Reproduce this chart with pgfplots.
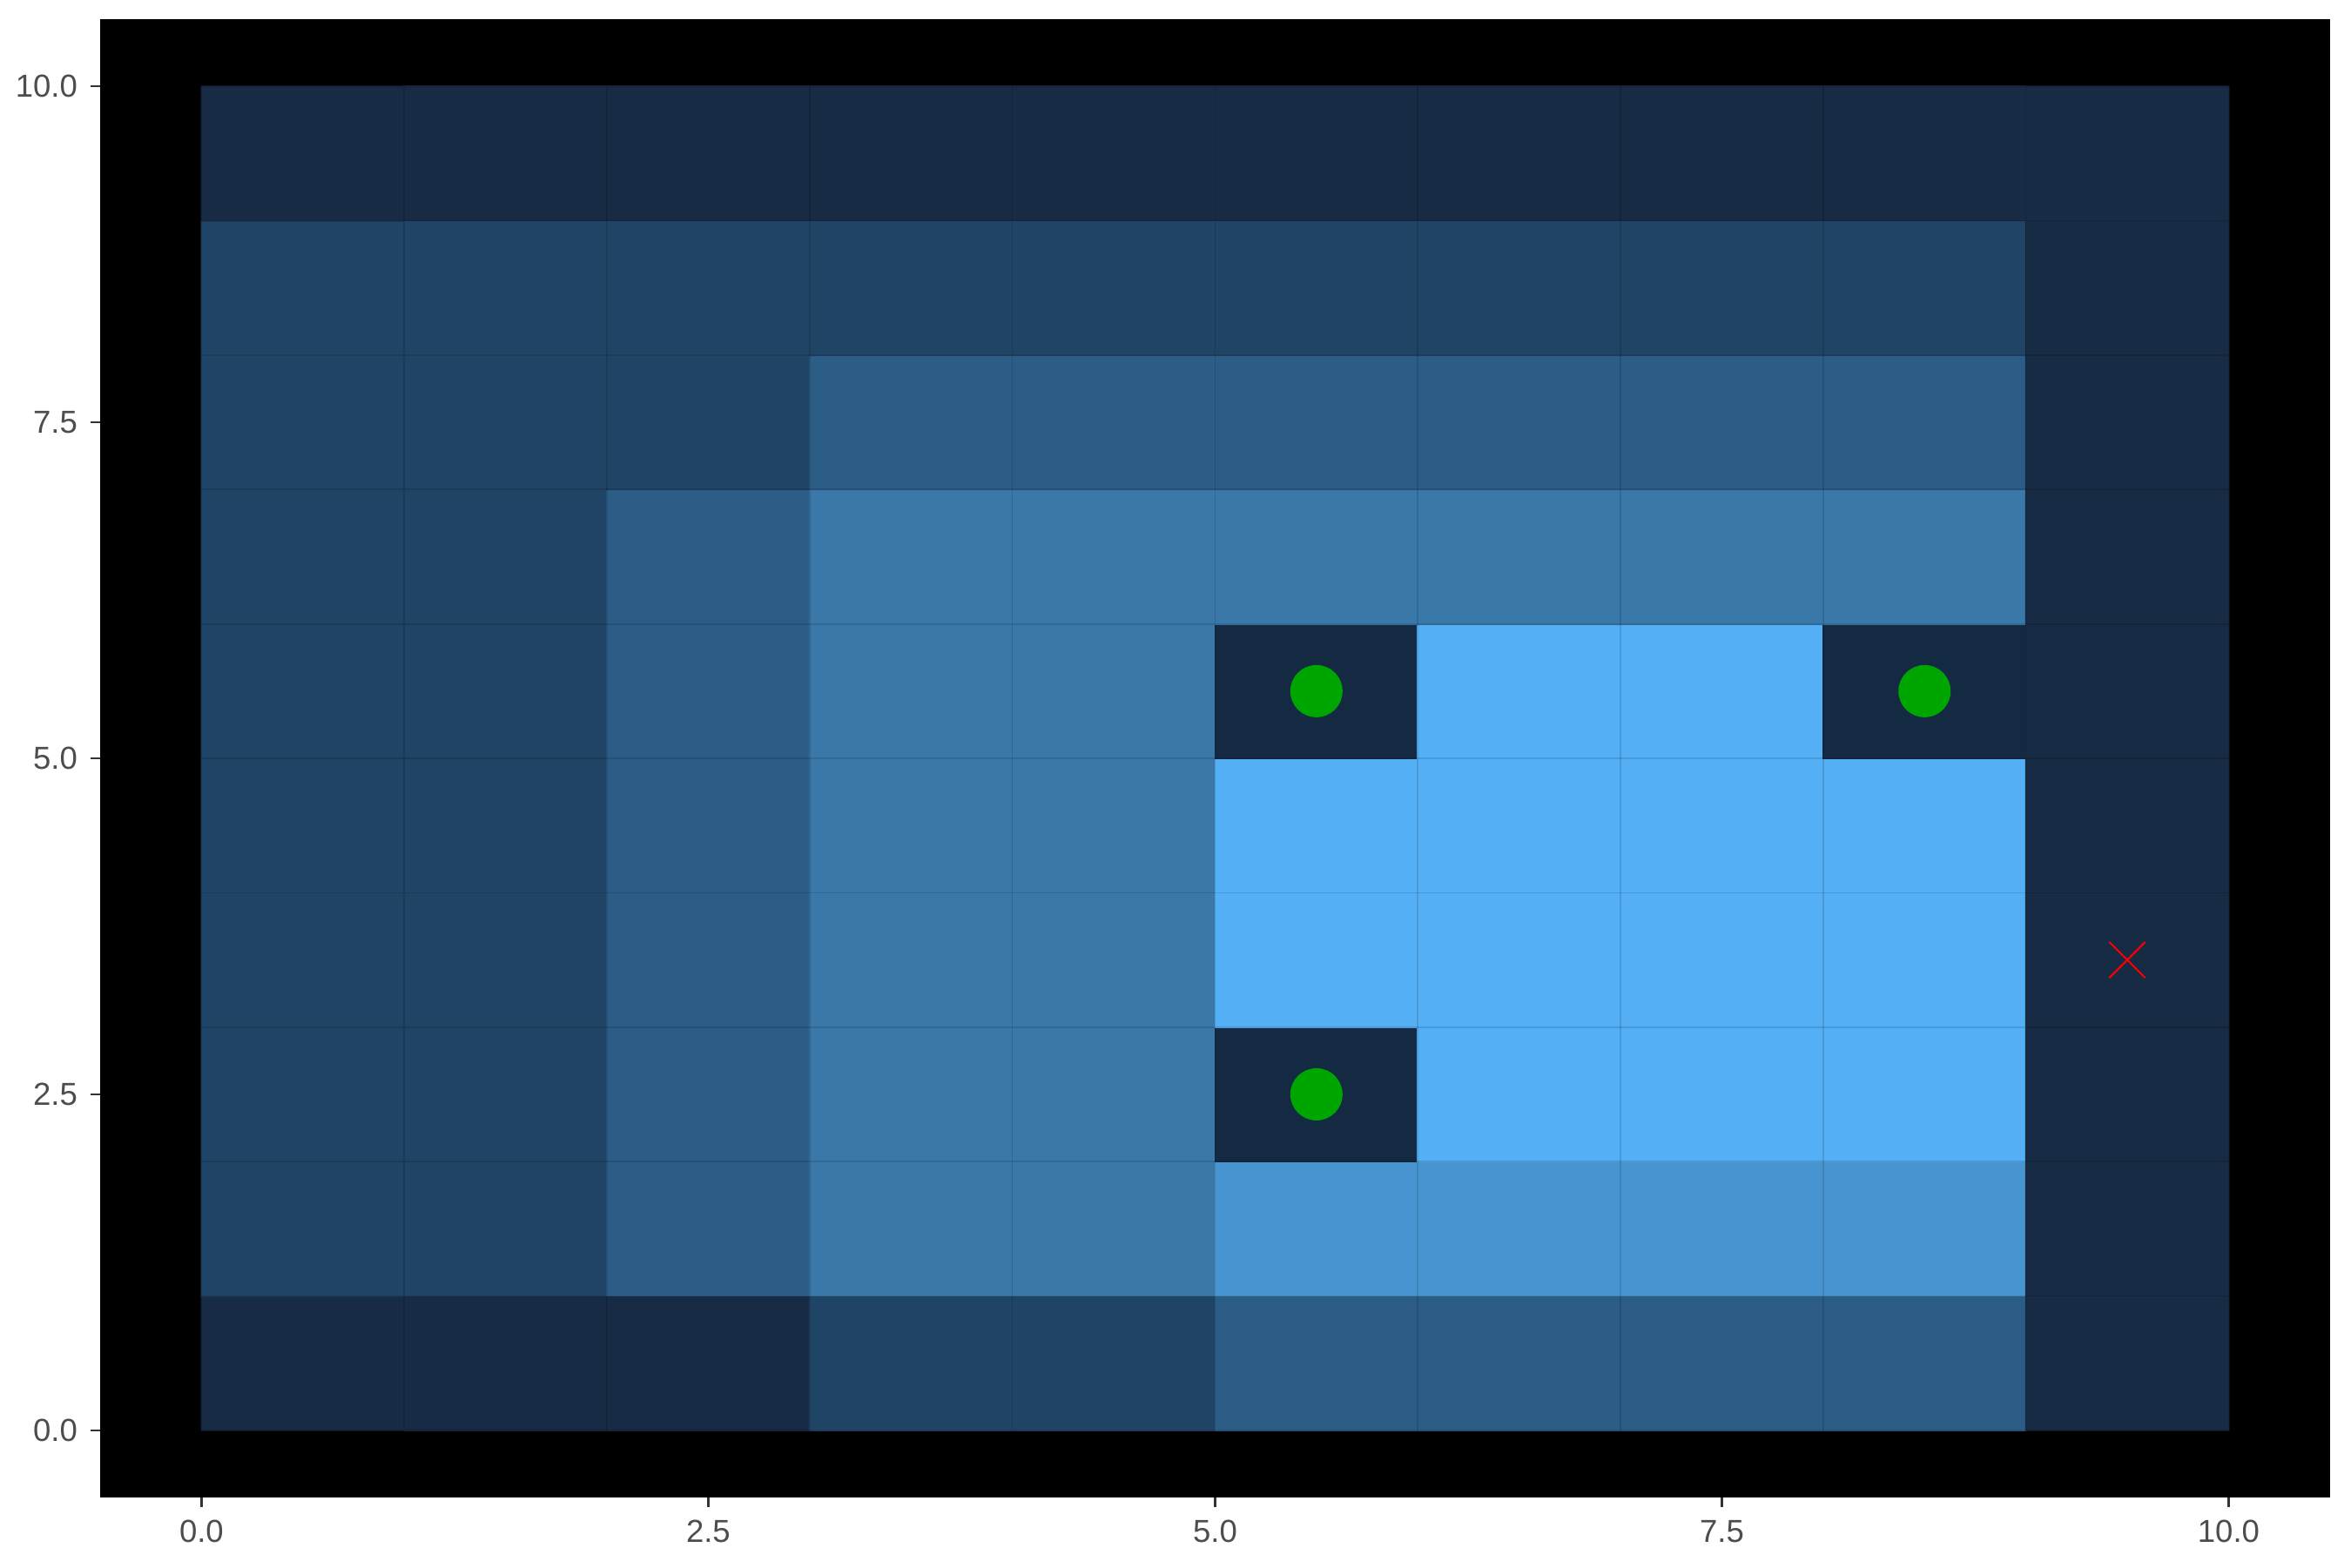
\documentclass[border=0pt]{standalone}
\usepackage{fontspec}
\setmainfont{Liberation Sans}
\usepackage{pgfplots}
\pgfplotsset{compat=1.18}
\usetikzlibrary{calc}

\definecolor{tickgrey}{HTML}{333333}
\definecolor{labelgrey}{HTML}{4D4D4D}
\definecolor{dotgreen}{HTML}{00A600}

\begin{document}
\begin{tikzpicture}
\begin{axis}[
    scale only axis,
    width=614.6bp, height=407.5bp,
    xmin=-0.5, xmax=10.5, ymin=-0.5, ymax=10.5,
    axis background/.style={fill=black},
    axis line style={draw=none},
    axis on top,
    xtick={0,2.5,5,7.5,10}, ytick={0,2.5,5,7.5,10},
    minor xtick={0,...,10}, minor ytick={0,...,10},
    minor tick length=0pt,
    xminorgrids, yminorgrids,
    minor grid style={black, opacity=0.12, line width=0.4bp},
    tick align=outside, xtick pos=bottom, ytick pos=left,
    major tick length=2.75bp,
    major tick style={tickgrey, line width=0.55bp},
    ticklabel style={font=\fontsize{8.8}{10}\selectfont, text=labelgrey},
    xticklabel style={/pgf/number format/.cd, fixed, fixed zerofill, precision=1, assume math mode=true},
    yticklabel style={/pgf/number format/.cd, fixed, fixed zerofill, precision=1, assume math mode=true},
    colormap={gw}{rgb255(0)=(20,42,66) rgb255(1)=(23,43,68) rgb255(2)=(32,68,102)
        rgb255(3)=(44,93,134) rgb255(4)=(58,120,169) rgb255(5)=(72,148,208) rgb255(6)=(84,175,245)},
    point meta min=0, point meta max=6,
]
% cell values (level index), rows from y=0.5 upwards
\addplot[matrix plot*, point meta=explicit, mesh/cols=10] coordinates {
(0.5,0.5) [1] (1.5,0.5) [1] (2.5,0.5) [1] (3.5,0.5) [2] (4.5,0.5) [2] (5.5,0.5) [3] (6.5,0.5) [3] (7.5,0.5) [3] (8.5,0.5) [3] (9.5,0.5) [1]

(0.5,1.5) [2] (1.5,1.5) [2] (2.5,1.5) [3] (3.5,1.5) [4] (4.5,1.5) [4] (5.5,1.5) [5] (6.5,1.5) [5] (7.5,1.5) [5] (8.5,1.5) [5] (9.5,1.5) [1]

(0.5,2.5) [2] (1.5,2.5) [2] (2.5,2.5) [3] (3.5,2.5) [4] (4.5,2.5) [4] (5.5,2.5) [0] (6.5,2.5) [6] (7.5,2.5) [6] (8.5,2.5) [6] (9.5,2.5) [1]

(0.5,3.5) [2] (1.5,3.5) [2] (2.5,3.5) [3] (3.5,3.5) [4] (4.5,3.5) [4] (5.5,3.5) [6] (6.5,3.5) [6] (7.5,3.5) [6] (8.5,3.5) [6] (9.5,3.5) [1]

(0.5,4.5) [2] (1.5,4.5) [2] (2.5,4.5) [3] (3.5,4.5) [4] (4.5,4.5) [4] (5.5,4.5) [6] (6.5,4.5) [6] (7.5,4.5) [6] (8.5,4.5) [6] (9.5,4.5) [1]

(0.5,5.5) [2] (1.5,5.5) [2] (2.5,5.5) [3] (3.5,5.5) [4] (4.5,5.5) [4] (5.5,5.5) [0] (6.5,5.5) [6] (7.5,5.5) [6] (8.5,5.5) [0] (9.5,5.5) [1]

(0.5,6.5) [2] (1.5,6.5) [2] (2.5,6.5) [3] (3.5,6.5) [4] (4.5,6.5) [4] (5.5,6.5) [4] (6.5,6.5) [4] (7.5,6.5) [4] (8.5,6.5) [4] (9.5,6.5) [1]

(0.5,7.5) [2] (1.5,7.5) [2] (2.5,7.5) [2] (3.5,7.5) [3] (4.5,7.5) [3] (5.5,7.5) [3] (6.5,7.5) [3] (7.5,7.5) [3] (8.5,7.5) [3] (9.5,7.5) [1]

(0.5,8.5) [2] (1.5,8.5) [2] (2.5,8.5) [2] (3.5,8.5) [2] (4.5,8.5) [2] (5.5,8.5) [2] (6.5,8.5) [2] (7.5,8.5) [2] (8.5,8.5) [2] (9.5,8.5) [1]

(0.5,9.5) [1] (1.5,9.5) [1] (2.5,9.5) [1] (3.5,9.5) [1] (4.5,9.5) [1] (5.5,9.5) [1] (6.5,9.5) [1] (7.5,9.5) [1] (8.5,9.5) [1] (9.5,9.5) [1]
};
% goals
\addplot[only marks, mark=*, mark size=7bp, color=dotgreen] coordinates {(5.5,5.5) (8.5,5.5) (5.5,2.5)};
% agent
\addplot[only marks, mark=x, mark size=7bp, color=red, mark options={line width=0.5bp}] coordinates {(9.5,3.5)};
\end{axis}
\pgfresetboundingbox
\path[use as bounding box] ($(current axis.south west)+(-27.6bp,-19.2bp)$) rectangle ($(current axis.north east)+(5.8bp,5.3bp)$);
\end{tikzpicture}
\end{document}
